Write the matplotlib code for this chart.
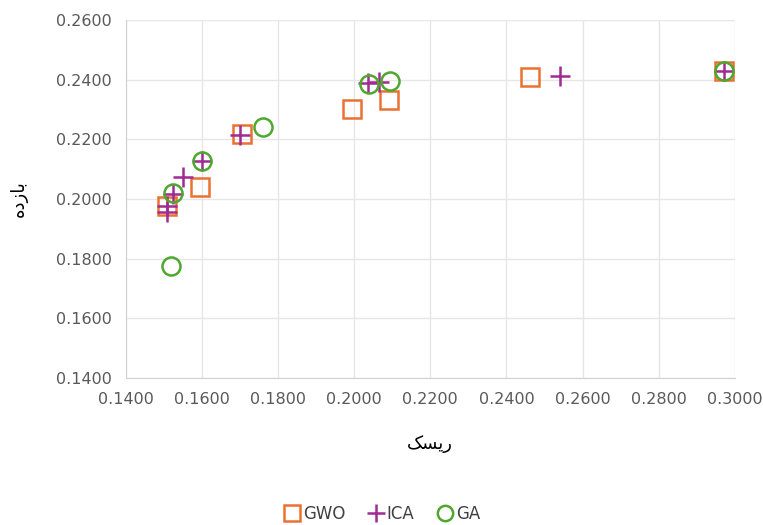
import numpy as np
import matplotlib.pyplot as plt

# risk (x) / return (y) for each algorithm
gwo_risk = [0.1508, 0.1594, 0.1705, 0.1993, 0.2091, 0.2462, 0.2972]
gwo_ret = [0.1977, 0.2040, 0.2217, 0.2301, 0.2333, 0.2409, 0.2429]

ica_risk = [0.1508, 0.1508, 0.1524, 0.1550, 0.1600, 0.1700, 0.2036, 0.2065, 0.2541, 0.2972]
ica_ret = [0.1977, 0.1957, 0.2018, 0.2073, 0.2128, 0.2216, 0.2388, 0.2391, 0.2412, 0.2429]

ga_risk = [0.1518, 0.1524, 0.1600, 0.1760, 0.2039, 0.2094, 0.2972]
ga_ret = [0.1776, 0.2020, 0.2128, 0.2241, 0.2386, 0.2396, 0.2429]

x_ticks = np.arange(0.14, 0.3001, 0.02)
y_ticks = np.arange(0.14, 0.2601, 0.02)

# Persian labels, pre-shaped (presentation forms, visual order)
x_label = "\uFB8F\uFEB4\uFEF3\uFEAD"        # ریسک
y_label = "\uFEE9\uFEA9\uFEAF\uFE8E\uFE91"  # بازده

plt.rcParams['font.family'] = ['DejaVu Sans']

fig = plt.figure(figsize=(7.63, 5.25), dpi=100)
ax = fig.add_axes([0.165, 0.28, 0.798, 0.682])

ms = 13
ax.plot(gwo_risk, gwo_ret, 's', ms=ms, mfc='none', mec='#E97132', mew=1.8, label='GWO')
ax.plot(ica_risk, ica_ret, '+', ms=ms + 2, mec='#A02B93', mew=1.8, label='ICA')
ax.plot(ga_risk, ga_ret, 'o', ms=ms, mfc='none', mec='#4EA72E', mew=1.8, label='GA')

ax.set_xlim(0.14, 0.30)
ax.set_ylim(0.14, 0.26)
ax.set_xticks(x_ticks)
ax.set_yticks(y_ticks)
ax.set_xticklabels(['%.4f' % v for v in x_ticks])
ax.set_yticklabels(['%.4f' % v for v in y_ticks])
ax.tick_params(length=0, labelsize=11.5, labelcolor='#595959', pad=10)

ax.grid(True, color='#E6E6E6', lw=1)
ax.set_axisbelow(True)
for s in ['top', 'right']:
    ax.spines[s].set_visible(False)
for s in ['left', 'bottom']:
    ax.spines[s].set_color('#D0D0D0')

ax.set_xlabel(x_label, fontsize=13, labelpad=20)
ax.set_ylabel(y_label, fontsize=13, labelpad=20)

fig.legend(loc='lower center', bbox_to_anchor=(0.5, -0.025), ncol=3, frameon=False,
           fontsize=12, markerscale=0.85, handlelength=1.1, handletextpad=0.1,
           columnspacing=1.3, labelcolor='#404040')

fig.savefig('out.png', dpi=100)
